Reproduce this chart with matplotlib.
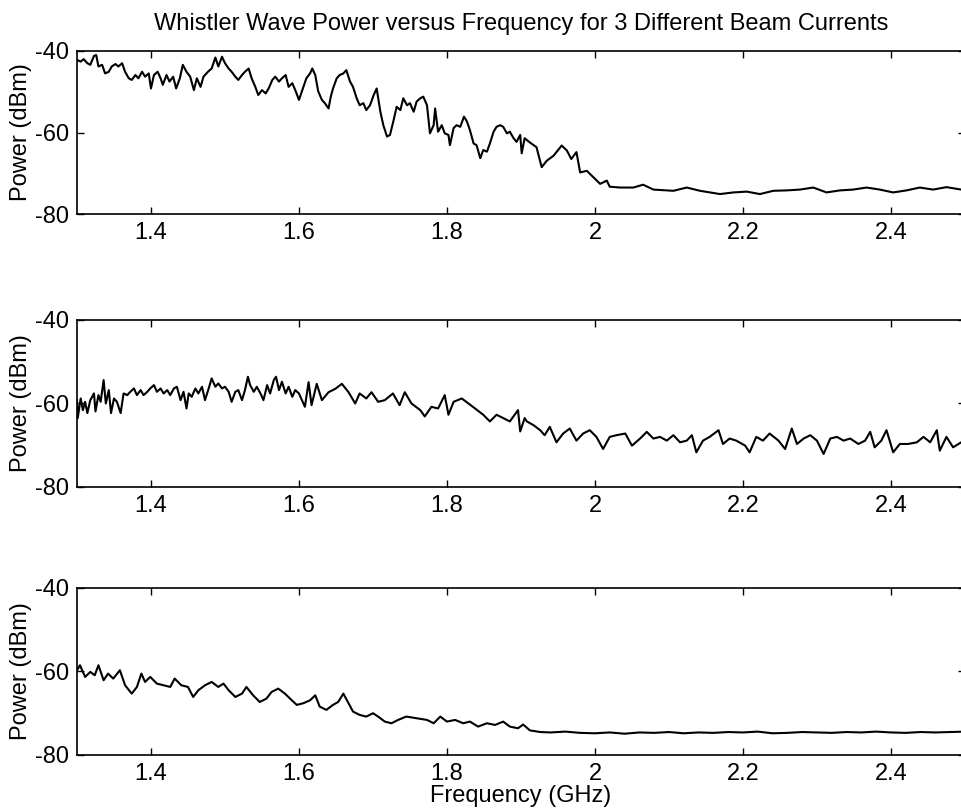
import matplotlib
matplotlib.use("Agg")
import matplotlib.pyplot as plt

plt.rcParams['font.family'] = ['Liberation Sans', 'DejaVu Sans']
plt.rcParams['axes.unicode_minus'] = False

# top panel
top_f = [1.300, 1.305, 1.309, 1.314, 1.318, 1.323, 1.326, 1.329, 1.334, 1.338,
         1.343, 1.347, 1.352, 1.356, 1.361, 1.365, 1.370, 1.374, 1.379, 1.383,
         1.388, 1.392, 1.397, 1.400, 1.404, 1.409, 1.413, 1.416, 1.421, 1.425,
         1.430, 1.434, 1.439, 1.443, 1.448, 1.453, 1.458, 1.462, 1.467, 1.471,
         1.477, 1.482, 1.487, 1.491, 1.496, 1.500, 1.505, 1.509, 1.514, 1.518,
         1.523, 1.527, 1.532, 1.536, 1.541, 1.545, 1.550, 1.555, 1.559, 1.564,
         1.568, 1.573, 1.577, 1.582, 1.586, 1.591, 1.595, 1.600,
         1.606, 1.610, 1.615, 1.618, 1.622, 1.626, 1.631, 1.635, 1.640, 1.643,
         1.646, 1.651, 1.655, 1.660, 1.664, 1.669, 1.673, 1.678, 1.682, 1.687,
         1.691, 1.696, 1.701, 1.705, 1.710, 1.714, 1.719, 1.723, 1.728, 1.732,
         1.737, 1.741, 1.746, 1.750, 1.755, 1.759, 1.764, 1.768, 1.773, 1.777,
         1.782, 1.784, 1.788, 1.793, 1.797, 1.802, 1.804, 1.809, 1.813, 1.818,
         1.823, 1.827, 1.831, 1.836, 1.840, 1.845, 1.849, 1.854, 1.858, 1.863,
         1.867, 1.872, 1.876, 1.881, 1.885, 1.890, 1.894, 1.899, 1.901, 1.905,
         1.911,
         1.921, 1.928, 1.935, 1.944, 1.955, 1.962, 1.968, 1.975, 1.980,
         1.989, 1.998, 2.007, 2.016, 2.020, 2.034, 2.052, 2.065, 2.079, 2.106,
         2.124, 2.142, 2.169, 2.187, 2.205, 2.223, 2.241, 2.259, 2.277, 2.295,
         2.313, 2.331, 2.349, 2.367, 2.385, 2.403, 2.421, 2.439, 2.457, 2.475,
         2.495]
top_p = [-42.2, -42.6, -42.0, -43.0, -43.4, -41.2, -41.0, -43.8, -43.4, -45.5,
         -45.1, -43.8, -43.2, -43.8, -43.0, -45.1, -46.7, -47.1, -45.9, -46.7,
         -45.1, -46.3, -45.5, -49.2, -45.9, -45.1, -46.7, -48.3, -45.9, -47.5,
         -46.3, -49.2, -46.7, -43.4, -45.1, -46.3, -49.6, -46.7, -48.8, -46.3,
         -45.1, -44.3, -41.6, -43.8, -41.4, -43.0, -44.3, -45.1, -46.3, -47.1,
         -45.9, -45.1, -44.3, -46.7, -48.8, -50.8, -49.6, -50.4, -49.2, -47.1,
         -46.3, -47.5, -46.7, -45.9, -48.8, -47.9, -49.6, -52.0,
         -48.8, -46.7, -45.5, -44.3, -45.9, -49.9, -52.0, -52.8, -54.1, -51.2,
         -49.2, -46.7, -45.9, -45.5, -44.7, -47.5, -48.8, -51.6, -53.3, -52.8,
         -54.5, -53.3, -50.8, -49.2, -54.9, -58.2, -61.0, -60.6, -56.9, -53.7,
         -54.5, -51.6, -53.3, -52.8, -54.9, -52.4, -51.6, -51.2, -53.3, -60.2,
         -58.2, -54.1, -59.8, -58.2, -60.2, -60.6, -63.1, -58.9, -58.2, -58.6,
         -56.1, -57.3, -59.4, -62.7, -63.1, -66.3, -64.3, -64.7, -62.7, -59.8,
         -58.6, -58.2, -58.6, -60.2, -59.8, -61.4, -62.3, -60.6, -65.1, -61.4,
         -62.3,
         -63.6, -68.5, -66.9, -65.7, -63.2, -64.4, -66.5, -64.8, -69.8,
         -69.4, -71.0, -72.6, -71.8, -73.3, -73.5, -73.5, -72.8, -74.0, -74.3,
         -73.5, -74.3, -75.1, -74.7, -74.5, -75.1, -74.3, -74.2, -74.0, -73.5,
         -74.7, -74.2, -74.0, -73.5, -74.0, -74.7, -74.2, -73.5, -74.0, -73.4,
         -74.0]

# middle panel
mid_f = [1.300, 1.301, 1.305, 1.308, 1.311, 1.314, 1.318, 1.323, 1.325, 1.329,
         1.332, 1.336, 1.339, 1.343, 1.346, 1.350, 1.354, 1.359, 1.363, 1.368,
         1.372, 1.377, 1.381, 1.386, 1.390, 1.395, 1.399, 1.404, 1.408, 1.413,
         1.417, 1.422, 1.426, 1.431, 1.435, 1.440, 1.444, 1.448, 1.451, 1.455,
         1.460, 1.464, 1.469, 1.473, 1.478, 1.482, 1.487, 1.491, 1.496, 1.500,
         1.505, 1.509, 1.514, 1.518, 1.523, 1.527, 1.531, 1.534, 1.539, 1.543,
         1.548, 1.552, 1.557, 1.561, 1.566, 1.569, 1.573, 1.577, 1.582, 1.586,
         1.591, 1.595, 1.600,
         1.608, 1.613, 1.617, 1.624, 1.631, 1.640,
         1.649, 1.658, 1.667, 1.676, 1.682, 1.691, 1.698, 1.707, 1.716, 1.727,
         1.736, 1.743, 1.752, 1.764, 1.770, 1.779, 1.788, 1.797, 1.802, 1.809,
         1.820, 1.829, 1.838, 1.849, 1.858, 1.867, 1.876, 1.885, 1.896, 1.899,
         1.905,
         1.908, 1.917, 1.926, 1.932, 1.939, 1.948, 1.957, 1.966, 1.975, 1.984,
         1.993, 2.002, 2.011, 2.020, 2.029, 2.041, 2.050, 2.061, 2.070, 2.079,
         2.088, 2.097, 2.106, 2.115, 2.124, 2.131, 2.137, 2.146, 2.155, 2.167,
         2.173, 2.182, 2.191, 2.203, 2.209, 2.218, 2.227, 2.236, 2.248, 2.257,
         2.266, 2.273, 2.282, 2.291, 2.300, 2.309, 2.318, 2.327, 2.336, 2.345,
         2.356, 2.365, 2.372, 2.378, 2.387, 2.394, 2.403, 2.412, 2.423, 2.435,
         2.444, 2.453, 2.462, 2.466, 2.475, 2.484, 2.495]
mid_p = [-59.2, -63.5, -58.8, -61.6, -59.6, -62.3, -59.2, -57.6, -61.9, -58.0,
         -59.6, -54.4, -60.0, -56.8, -62.3, -58.8, -59.6, -62.3, -57.6, -58.0,
         -57.2, -56.4, -58.0, -56.8, -58.0, -57.2, -56.4, -55.6, -57.2, -56.4,
         -57.6, -56.8, -58.0, -56.4, -56.0, -59.2, -57.2, -61.2, -57.6, -58.4,
         -56.4, -57.6, -56.0, -59.2, -56.4, -54.0, -56.0, -55.2, -56.4, -56.0,
         -57.2, -59.6, -57.2, -56.8, -59.2, -56.8, -53.6, -55.6, -57.2, -56.0,
         -57.6, -59.2, -55.6, -57.6, -54.4, -53.6, -56.8, -54.8, -57.6, -56.0,
         -58.4, -56.8, -57.6,
         -60.8, -54.9, -60.4, -55.3, -59.2, -57.3,
         -56.5, -55.3, -57.3, -60.0, -57.6, -58.8, -57.3, -59.6, -59.2, -57.6,
         -60.4, -57.3, -60.0, -61.6, -63.1, -60.8, -61.2, -58.0, -62.7, -59.6,
         -58.8, -60.0, -61.2, -62.7, -64.3, -62.7, -63.5, -64.3, -61.6, -66.7,
         -63.5,
         -64.3, -65.2, -66.4, -67.6, -65.6, -69.3, -67.2, -66.0, -68.9, -67.2,
         -66.4, -68.0, -70.9, -68.0, -67.6, -67.2, -70.1, -68.4, -66.8, -68.4,
         -68.0, -68.9, -67.6, -69.3, -68.9, -67.6, -71.7, -68.9, -68.0, -66.4,
         -69.7, -68.4, -68.9, -70.1, -71.7, -68.0, -68.9, -67.2, -68.9, -70.9,
         -66.0, -69.7, -68.4, -67.6, -68.9, -72.1, -68.4, -68.0, -68.9, -68.4,
         -69.7, -68.9, -66.8, -70.5, -68.9, -66.4, -71.7, -69.7, -69.7, -69.3,
         -68.0, -69.3, -66.4, -71.3, -68.0, -70.5, -69.3]

# bottom panel
bot_f = [1.300, 1.304, 1.311, 1.318, 1.324, 1.329, 1.336, 1.342, 1.349, 1.358,
         1.365, 1.374, 1.381, 1.387, 1.392, 1.399, 1.408, 1.417, 1.426, 1.432,
         1.441, 1.450, 1.457, 1.464, 1.473, 1.482, 1.491, 1.498, 1.505, 1.514,
         1.523, 1.529, 1.538, 1.547, 1.556, 1.563, 1.572, 1.581, 1.588, 1.597,
         1.606, 1.615, 1.622, 1.628, 1.637, 1.646, 1.653, 1.660, 1.667, 1.673,
         1.682, 1.691, 1.700, 1.707, 1.716, 1.725, 1.734, 1.745, 1.759, 1.773,
         1.782, 1.791, 1.800, 1.811, 1.822, 1.831, 1.842, 1.854, 1.865, 1.876,
         1.885, 1.896, 1.903, 1.912, 1.926, 1.940, 1.960, 1.980, 2.000, 2.020,
         2.040, 2.060, 2.080, 2.100, 2.120, 2.140, 2.160, 2.180, 2.200, 2.220,
         2.240, 2.260, 2.280, 2.300, 2.320, 2.340, 2.360, 2.380, 2.400, 2.420,
         2.440, 2.460, 2.480, 2.500]
bot_p = [-59.7, -58.5, -61.3, -60.1, -60.9, -58.5, -62.1, -60.5, -61.7, -59.7,
         -63.3, -65.3, -63.7, -60.5, -62.5, -61.3, -62.9, -63.3, -63.7, -61.7,
         -63.3, -63.7, -66.1, -64.5, -63.3, -62.5, -63.7, -62.9, -64.5, -66.1,
         -65.3, -63.7, -65.7, -67.3, -66.5, -64.9, -64.1, -65.3, -66.5, -68.0,
         -67.6, -66.9, -65.7, -68.4, -69.2, -68.0, -67.3, -65.3, -67.6, -69.6,
         -70.4, -70.8, -70.0, -70.8, -72.0, -72.4, -71.6, -70.8, -71.2, -71.6,
         -72.4, -70.8, -72.0, -71.6, -72.4, -72.0, -73.2, -72.4, -72.8, -72.0,
         -73.2, -73.6, -72.7, -74.1, -74.5, -74.6, -74.4, -74.7, -74.8, -74.6,
         -74.9, -74.6, -74.7, -74.5, -74.8, -74.6, -74.7, -74.5, -74.6, -74.4,
         -74.8, -74.7, -74.5, -74.6, -74.7, -74.5, -74.6, -74.4, -74.6, -74.7,
         -74.5, -74.6, -74.5, -74.4]

xticks = [1.4, 1.6, 1.8, 2.0, 2.2, 2.4]
xticklabels = ['1.4', '1.6', '1.8', '2', '2.2', '2.4']
yticks = [-80, -60, -40]

fig = plt.figure(figsize=(9.61, 8.08), dpi=100)

boxes = [[0.0801, 0.7351, 0.924, 0.2018],
         [0.0801, 0.3973, 0.924, 0.2067],
         [0.0801, 0.0656, 0.924, 0.2067]]
series = [(top_f, top_p), (mid_f, mid_p), (bot_f, bot_p)]

axes = []
for box, (f, p) in zip(boxes, series):
    ax = fig.add_axes(box)
    ax.plot(f, p, color='k', lw=1.5)
    ax.set_xlim(1.3, 2.5)
    ax.set_ylim(-80, -40)
    ax.set_xticks(xticks)
    ax.set_xticklabels(xticklabels)
    ax.set_yticks(yticks)
    ax.tick_params(direction='in', top=True, right=True, length=5,
                   width=1, labelsize=17, pad=6, colors='k')
    for s in ax.spines.values():
        s.set_linewidth(1.2)
    ax.set_ylabel('Power (dBm)', fontsize=17, labelpad=2)
    axes.append(ax)

axes[0].set_title('Whistler Wave Power versus Frequency for 3 Different Beam Currents',
                  fontsize=17, pad=15)
axes[2].set_xlabel('Frequency (GHz)', fontsize=17, labelpad=0)

fig.savefig('out.png', dpi=100)
